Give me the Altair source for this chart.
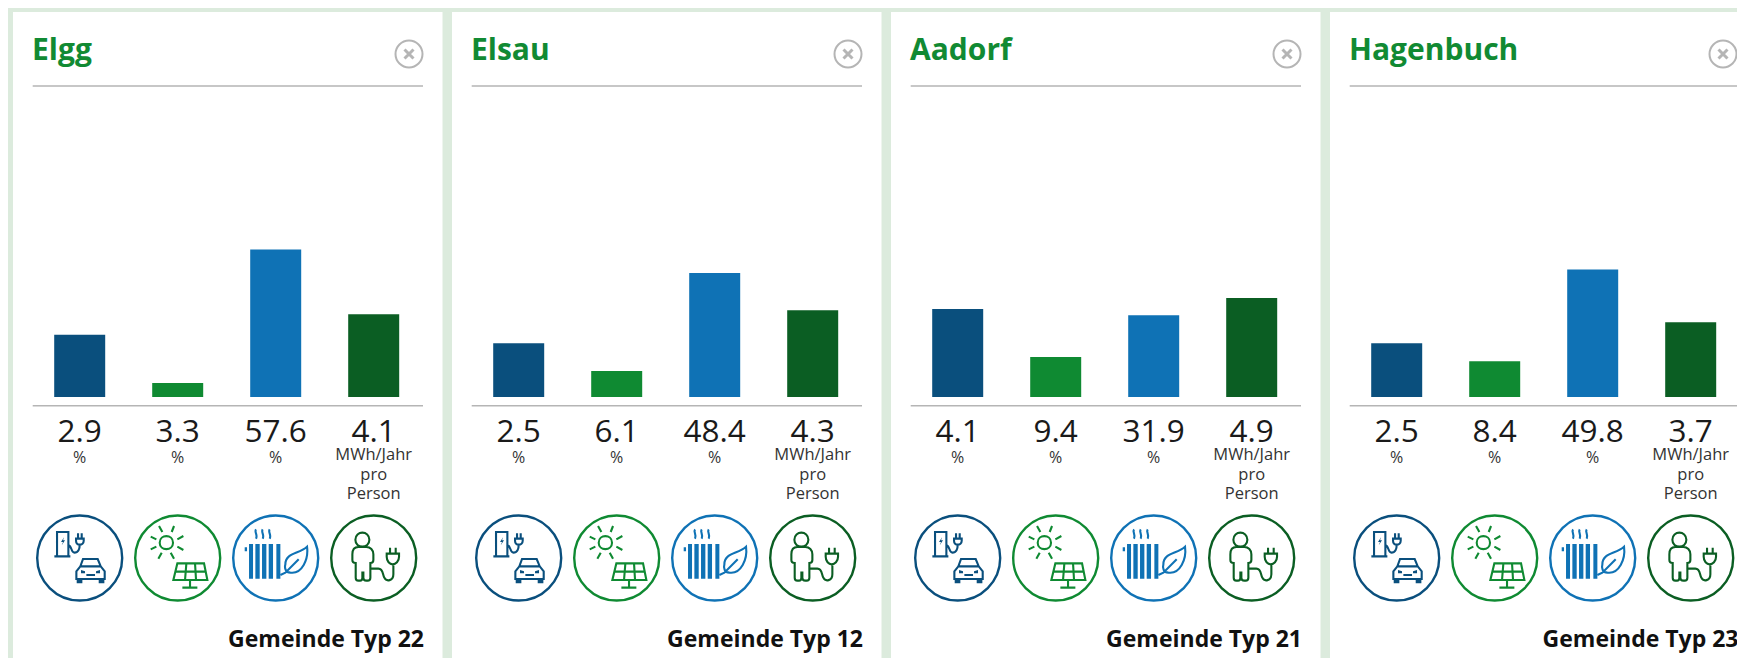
import re
import altair as alt
import pandas as pd

gemeinden = ["Elgg", "Elsau", "Aadorf", "Hagenbuch"]
typen = ["Gemeinde Typ 22", "Gemeinde Typ 12", "Gemeinde Typ 21", "Gemeinde Typ 23"]
indikatoren = ["Elektroautos", "Solarstrom", "Heizung", "Stromverbrauch"]
emob = [2.9, 2.5, 4.1, 2.5]
solar = [3.3, 6.1, 9.4, 8.4]
heizung = [57.6, 48.4, 31.9, 49.8]
strom = [4.1, 4.3, 4.9, 3.7]
einheiten = ["%", "%", "%", "MWh/Jahr\npro\nPerson"]

farben = ["#0a4f7d", "#0f8a32", "#0f72b5", "#0b5e23"]
y_max = [9.32, 47.06, 78.1, 9.9]
FONT = "Open Sans"
BG = "#dcebdd"
GREY = "#b5b5b5"
CARD_W = 429.5
LAST_W = 412
CARD_H = 650


def g(path):
    """Icon outlines are noted on a 3x grid centred at 146,146; convert to pixels about the centre."""
    return re.sub(r"-?\d+\.?\d*", lambda m: f"{(float(m.group()) - 146) / 3:.2f}", path)


RING = "M-42.5,0 A42.5,42.5 0 1,1 42.5,0 A42.5,42.5 0 1,1 -42.5,0 Z"

ICON_STROKE = [
    # charger + car
    "M70,141 L118,141 M78,141 L78,68 L112,68 L112,141 "
    "M112,108 C122,108 120,130 130,130 C142,130 146,118 146,106 "
    "M135,88 L158,88 L158,94 C158,102 152,106 146,106 C140,106 135,102 135,94 Z "
    "M141,72 L141,88 M152,72 L152,88 "
    "M136,186 L148,171 L156,149 L200,149 L209,171 L221,186 L221,209 L136,209 Z "
    "M148,171 L209,171 M166,197 L192,197",
    # sun + panel
    "M92,100 C92,74 132,74 132,100 C132,126 92,126 92,100 Z "
    "M90,50 L100,68 M135,50 L128,68 M65,82 L82,90 M145,90 L163,80 "
    "M65,120 L82,112 M145,112 L163,122 M88,148 L98,130 M135,148 L125,130 "
    "M145,162 L225,162 L235,212 L133,212 Z "
    "M172,162 L168,212 M198,162 L201,212 M139,187 L230,187 "
    "M183,212 L183,235 M160,235 L205,235",
    # steam + leaf
    "M87,60 C81,68 93,76 87,88 M107,60 C101,68 113,76 107,88 M128,60 C122,68 134,76 128,88 "
    "M175,165 C175,130 215,135 240,112 C245,150 225,195 190,190 C175,190 172,175 175,165 Z "
    "M160,197 L175,190 L215,150",
    # person + plug
    "M91,91 C91,63 133,63 133,91 C133,119 91,119 91,91 Z "
    "M100,113 C88,113 82,122 82,135 L82,152 C82,158 86,161 92,161 L92,205 C92,211 96,214 100,214 "
    "L105,214 C110,214 112,211 112,205 L112,190 L115,190 L115,205 C115,211 118,214 124,214 "
    "L128,214 C133,214 136,211 136,205 L136,161 C142,161 145,158 145,152 L145,135 "
    "C145,122 136,113 124,113 Z "
    "M136,178 L160,178 C175,178 172,195 178,205 C184,218 205,215 205,195 L205,165 "
    "M185,133 L222,133 L222,142 C222,156 212,165 203,165 C194,165 185,156 185,142 Z "
    "M195,115 L195,133 M212,115 L212,133",
]
ICON_FILL = [
    # bolt, car wheels and lights
    "M99,84 L90,98 L96,98 L92,108 L102,93 L96,93 Z "
    "M137,209 L154,209 L154,222 L137,222 Z M203,209 L220,209 L220,222 L203,222 Z "
    "M150,182 L162,186 L162,192 L150,192 Z M207,182 L195,186 L195,192 L207,192 Z",
    "",
    # radiator
    "M66,104 L78,104 L78,208 L66,208 Z M85,104 L98,104 L98,208 L85,208 Z "
    "M105,104 L118,104 L118,208 L105,208 Z M125,104 L138,104 L138,208 L125,208 Z "
    "M148,104 L160,104 L160,208 L148,208 Z M53,114 L60,114 L60,126 L53,126 Z",
    "",
]
ICON_STROKE = [g(p) for p in ICON_STROKE]
ICON_FILL = [g(p) for p in ICON_FILL]
CLOSE = "M-4.5,-4.5 L4.5,4.5 M-4.5,4.5 L4.5,-4.5"


def card(i, width):
    limit = 408.5
    right = min(411, limit)
    close_x = min(396, limit - 15.5)
    df = pd.DataFrame(
        {
            "Indikator": indikatoren,
            "Wert": [emob[i], solar[i], heizung[i], strom[i]],
            "Einheit": einheiten,
            "Titel": gemeinden[i],
            "Typ": typen[i],
        }
    )
    if width > limit + 10:
        right, close_x = 411, 396
    base = alt.Chart(df)
    x = alt.X(
        "Indikator:N",
        axis=None,
        sort=indikatoren,
        scale=alt.Scale(
            type="band",
            domain=indikatoren,
            range=[17.7, 409.7],
            paddingInner=0,
            paddingOuter=0,
        ),
    )
    bars = [
        base.transform_filter(alt.datum.Indikator == name)
        .mark_bar(size=51, color=farben[k])
        .encode(
            x=x,
            y=alt.Y(
                "Wert:Q",
                axis=None,
                scale=alt.Scale(domain=[0, y_max[k]], range=[385, 185], nice=False),
            ),
        )
        for k, name in enumerate(indikatoren)
    ]
    first = base.transform_filter(alt.datum.Indikator == indikatoren[0])
    title = first.mark_text(
        font=FONT, fontSize=30, fontWeight="bold", color="#118a33", align="left", baseline="alphabetic"
    ).encode(x=alt.value(19), y=alt.value(48), text="Titel:N")
    footer = first.mark_text(
        font=FONT, fontSize=23, fontWeight="bold", color="#111111", align="right", baseline="alphabetic"
    ).encode(x=alt.value(right), y=alt.value(634.7), text="Typ:N")
    header = first.mark_rule(color=GREY, strokeWidth=1.5).encode(
        x=alt.value(19.7), x2=alt.value(right - 1), y=alt.value(74)
    )
    axis = first.mark_rule(color=GREY, strokeWidth=1.5).encode(
        x=alt.value(19.7), x2=alt.value(right - 1), y=alt.value(393.7)
    )
    ring = first.mark_point(
        shape="circle", size=729, filled=False, stroke=GREY, strokeWidth=2, opacity=1
    ).encode(x=alt.value(close_x), y=alt.value(42))
    cross = first.mark_point(
        shape=CLOSE, size=4, filled=False, stroke=GREY, strokeWidth=3, opacity=1
    ).encode(x=alt.value(close_x), y=alt.value(42))
    values = base.mark_text(
        font=FONT, fontSize=31.5, color="#1a1a1a", align="center", baseline="alphabetic"
    ).encode(x=x, y=alt.value(430), text=alt.Text("Wert:Q", format=".1f"))
    percent = base.transform_filter(alt.datum.Einheit == "%").mark_text(
        font=FONT, fontSize=16, color="#333333", align="center", baseline="alphabetic"
    ).encode(x=x, y=alt.value(450.5), text="Einheit:N")
    units = base.transform_filter(alt.datum.Einheit != "%").mark_text(
        font=FONT, fontSize=16.5, color="#333333", align="center", baseline="alphabetic",
        lineBreak="\n", lineHeight=19.5,
    ).encode(x=x, y=alt.value(448), text="Einheit:N")
    icons = []
    for k, name in enumerate(indikatoren):
        row = base.transform_filter(alt.datum.Indikator == name)
        icons.append(
            row.mark_point(
                shape=RING, size=4, filled=False, stroke=farben[k], strokeWidth=2.4, opacity=1
            ).encode(x=x, y=alt.value(546))
        )
        icons.append(
            row.mark_point(
                shape=ICON_STROKE[k], size=4, filled=False, stroke=farben[k], strokeWidth=2.1, opacity=1
            ).encode(x=x, y=alt.value(546))
        )
        if ICON_FILL[k]:
            icons.append(
                row.mark_point(
                    shape=ICON_FILL[k], size=4, filled=True, fill=farben[k], opacity=1
                ).encode(x=x, y=alt.value(546))
            )
    return (
        alt.layer(*bars, title, footer, header, axis, ring, cross, values, percent, units, *icons)
        .resolve_scale(y="independent")
        .properties(
            width=width,
            height=CARD_H,
            view=alt.ViewBackground(fill="white", stroke=None),
        )
    )


chart = (
    alt.hconcat(*[card(i, LAST_W if i == 3 else CARD_W) for i in range(4)], spacing=9, bounds="flush")
    .properties(
        background=BG,
        padding={"left": 5, "top": 4, "right": -5, "bottom": -4},
    )
)
chart.save("out.html", embed_options={"renderer": "svg", "actions": False})
